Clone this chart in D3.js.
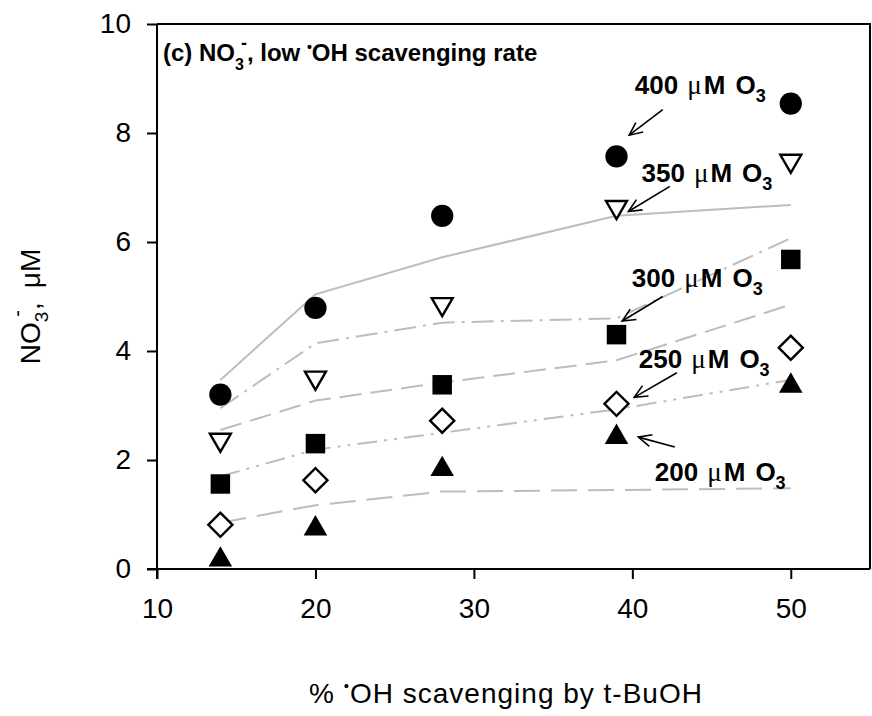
<!DOCTYPE html>
<html>
<head>
<meta charset="utf-8">
<script src="https://cdn.jsdelivr.net/npm/d3@7"></script>
<style>
    body { margin: 0; background: #fff; }
    svg { display: block; font-family: "Liberation Sans", Arial, sans-serif; }
    .axis path, .axis line { stroke: #000; stroke-width: 2; }
    .axis text { font-size: 28px; fill: #000; font-family: "Liberation Sans", Arial, sans-serif; }
    .model { fill: none; stroke: #bdbdbd; stroke-width: 2; }
    .note { font-size: 26px; font-weight: bold; }
    .arrow { stroke: #000; stroke-width: 1.6; fill: none; }
</style>
</head>
<body>
<svg id="chart" width="872" height="716"></svg>
<script>
"use strict";

// % OH scavenging by t-BuOH
const scavenging = [14, 20, 28, 39, 50];

// measured NO3- (uM) for each ozone dose
const measured400 = [3.2, 4.79, 6.48, 7.57, 8.54];
const measured350 = [2.37, 3.51, 4.86, 6.64, 7.49];
const measured300 = [1.56, 2.3, 3.38, 4.3, 5.68];
const measured250 = [0.81, 1.63, 2.72, 3.03, 4.06];
const measured200 = [0.17, 0.74, 1.83, 2.42, 3.36];

// model curves (grey lines)
const model400 = [3.47, 5.04, 5.72, 6.48, 6.68];
const model350 = [2.95, 4.14, 4.52, 4.6, 6.07];
const model300 = [2.55, 3.09, 3.42, 3.83, 4.85];
const model250 = [1.7, 2.19, 2.5, 2.93, 3.47];
const model200 = [0.85, 1.17, 1.42, 1.45, 1.48];

const xTicks = [10, 20, 30, 40, 50];
const yTicks = [0, 2, 4, 6, 8, 10];

// annotation labels: text anchor and arrow (from -> to), in data units
const noteDoses = ['400', '350', '300', '250', '200'];
const noteText = [[40.16, 8.71], [40.58, 7.11], [39.97, 5.18], [40.41, 3.69], [41.42, 1.62]];
const noteArrows = [
    [[41.92, 8.43], [39.8, 7.96]],
    [[42.37, 7.02], [39.75, 6.56]],
    [[41.92, 5.0], [39.36, 4.55]],
    [[42.81, 3.6], [40.12, 3.15]],
    [[42.68, 2.24], [40.38, 2.42]]
];

const LEFT = 157, RIGHT = 870, TOP = 24, BOTTOM = 569;

const svg = d3.select('#chart');

const x = d3.scaleLinear().domain([10, 55]).range([LEFT, RIGHT]);
const y = d3.scaleLinear().domain([0, 10]).range([BOTTOM, TOP]);

// frame (top and right)
svg.append('path')
    .attr('d', `M${LEFT},${TOP} H${RIGHT} V${BOTTOM}`)
    .attr('fill', 'none').attr('stroke', '#000').attr('stroke-width', 2);

// axes
svg.append('g').classed('axis', true)
    .attr('transform', `translate(0,${BOTTOM})`)
    .call(d3.axisBottom(x).tickValues(xTicks).tickSize(10).tickSizeOuter(0).tickPadding(19))
    .call(g => g.select('.domain').attr('d', `M${LEFT - 10},0H${RIGHT}`));

svg.append('g').classed('axis', true)
    .attr('transform', `translate(${LEFT},0)`)
    .call(d3.axisLeft(y).tickValues(yTicks).tickSize(10).tickSizeOuter(0).tickPadding(16))
    .call(g => g.select('.domain').attr('d', `M0,${BOTTOM + 10}V${TOP}`));

// model lines
const lineFunction = d3.line().x(d => x(d[0])).y(d => y(d[1]));
const models = [
    { values: model400, dash: null },
    { values: model350, dash: '22,7,3,7' },
    { values: model300, dash: '22,9' },
    { values: model250, dash: '20,7,3,7,3,7' },
    { values: model200, dash: '26,11' }
];
for (const m of models) {
    svg.append('path').classed('model', true)
        .datum(m.values.map((v, i) => [scavenging[i], v]))
        .attr('stroke-dasharray', m.dash)
        .attr('d', lineFunction);
}

// measured points
const series = [
    { values: measured400, symbol: d3.symbolCircle, size: 390, filled: true, rotate: 0 },
    { values: measured350, symbol: d3.symbolTriangle, size: 190, filled: false, rotate: 180 },
    { values: measured300, symbol: d3.symbolSquare, size: 380, filled: true, rotate: 0 },
    { values: measured250, symbol: d3.symbolSquare, size: 290, filled: false, rotate: 45 },
    { values: measured200, symbol: d3.symbolTriangle, size: 240, filled: true, rotate: 0 }
];
for (const s of series) {
    svg.append('g').selectAll('path')
        .data(s.values.map((v, i) => [scavenging[i], v]))
        .join('path')
        .attr('d', d3.symbol(s.symbol, s.size))
        .attr('transform', d => `translate(${x(d[0])},${y(d[1])}) rotate(${s.rotate})`)
        .attr('fill', s.filled ? '#000' : '#fff')
        .attr('stroke', '#000')
        .attr('stroke-width', s.filled ? 0 : 2.4);
}

// annotations
const notes = svg.append('g');
noteDoses.forEach((dose, i) => {
    const t = notes.append('text').classed('note', true)
        .attr('x', x(noteText[i][0])).attr('y', y(noteText[i][1]));
    t.append('tspan').text(dose);
    t.append('tspan').attr('dx', 9).attr('font-family', '"Liberation Serif", serif')
        .attr('font-weight', 'normal').attr('font-size', 27).text('\u03bc');
    t.append('tspan').attr('dx', 2).text('M');
    t.append('tspan').attr('dx', 10).text('O');
    t.append('tspan').attr('font-size', 18).attr('dy', 8).text('3');

    const from = noteArrows[i][0], to = noteArrows[i][1];
    const x1 = x(from[0]), y1 = y(from[1]), x2 = x(to[0]), y2 = y(to[1]);
    const angle = Math.atan2(y2 - y1, x2 - x1) * 180 / Math.PI;
    notes.append('line').classed('arrow', true)
        .attr('x1', x1).attr('y1', y1).attr('x2', x2).attr('y2', y2);
    notes.append('path').classed('arrow', true)
        .attr('d', 'M-13,-6L0,0L-13,6')
        .attr('transform', `translate(${x2},${y2}) rotate(${angle})`);
});

// title
const title = svg.append('text')
    .attr('x', 163).attr('y', 61)
    .attr('font-size', 24).attr('font-weight', 'bold');
title.append('tspan').text('(c) NO');
title.append('tspan').attr('font-size', 16).attr('dy', 9).text('3');
title.append('tspan').attr('font-size', 18).attr('dx', -3).attr('dy', -21).text('-');
title.append('tspan').attr('dy', 12).text(', low ');
title.append('tspan').attr('font-size', 14).attr('dy', -9).text('\u2022');
title.append('tspan').attr('dy', 9).text('OH scavenging rate');

// y axis title
const yTitle = svg.append('text')
    .attr('transform', `translate(40,${(TOP + BOTTOM) / 2 + 10}) rotate(-90)`)
    .attr('text-anchor', 'middle')
    .attr('font-size', 28);
yTitle.append('tspan').text('NO');
yTitle.append('tspan').attr('font-size', 19).attr('dy', 8).text('3');
yTitle.append('tspan').attr('font-size', 20).attr('dx', -5).attr('dy', -24).text('-');
yTitle.append('tspan').attr('dy', 16).text(',');
yTitle.append('tspan').attr('dx', 14).text('\u03bcM');

// x axis title
const xTitle = svg.append('text')
    .attr('x', 506).attr('y', 703)
    .attr('text-anchor', 'middle')
    .attr('font-size', 28)
    .attr('letter-spacing', 1);
xTitle.append('tspan').text('% ');
xTitle.append('tspan').attr('font-size', 15).attr('dy', -12).text('\u2022');
xTitle.append('tspan').attr('dy', 12).text('OH scavenging by t-BuOH');
</script>
</body>
</html>
